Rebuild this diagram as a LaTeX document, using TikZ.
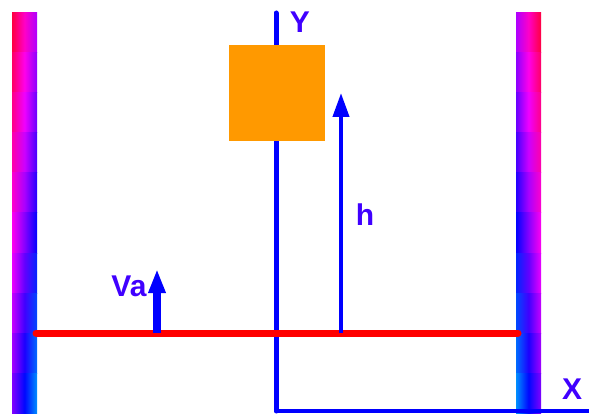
\documentclass[tikz,border=0pt]{standalone}
\usepackage{fontspec}
\setmainfont{Liberation Sans}
\usetikzlibrary{arrows.meta}
\definecolor{axisblue}{RGB}{0,0,255}
\definecolor{labelblue}{RGB}{64,0,255}
\definecolor{boxorange}{RGB}{255,153,0}
\definecolor{groundred}{RGB}{255,0,0}
\begin{document}
\begin{tikzpicture}[x=1pt,y=-1pt,
  lbl/.style={text=labelblue, font=\fontsize{30}{30}\selectfont\bfseries, inner sep=0pt},
  axisline/.style={draw=axisblue, line width=5pt},
  vec/.style={draw=axisblue, -{Triangle[width=16pt,length=24pt]}}]
\useasboundingbox (0,0) rectangle (589,414);
% walls
\foreach \i in {0,...,9}{
  \pgfmathsetmacro\hl{345-8.3*\i}
  \pgfmathsetmacro\hm{\hl-32}
  \pgfmathsetmacro\hr{\hl-64}
  \definecolor{wl}{Hsb}{\hl,1,1}
  \definecolor{wm}{Hsb}{\hm,1,1}
  \definecolor{wr}{Hsb}{\hr,1,1}
  \fill[left color=wl, middle color=wm, right color=wr] (12,13+40*\i) rectangle (37,53+40*\i);
  \fill[left color=wr, middle color=wm, right color=wl] (516,13+40*\i) rectangle (541,53+40*\i);
}
% axes
\coordinate (ytop) at (276,13);
\coordinate (origin) at (276,411);
\coordinate (xend) at (589,411);
\draw[axisline, line cap=round] (ytop) -- (origin);
\draw[axisline, line width=4pt] (origin) -- (xend);
% ground line
\coordinate (gl) at (36,333);
\coordinate (gr) at (518,333);
\draw[groundred, line width=7pt, line cap=round] (gl) -- (gr);
% box
\node (box) [fill=boxorange, minimum width=96pt, minimum height=96pt, inner sep=0pt] at (277,93) {};
% vectors
\coordinate (hbase) at (341,333);
\coordinate (htip) at (341,93);
\draw[vec, line width=4pt] (hbase) -- (htip);
\coordinate (vbase) at (157,333);
\coordinate (vtip) at (157,269);
\draw[vec, line width=8pt] (vbase) -- (vtip);
% labels
\node[lbl] (ylab) at (300,22) {Y};
\node[lbl] (xlab) at (572,389) {X};
\node[lbl] (hlab) at (365,215) {h};
\node[lbl] (valab) at (129,286) {Va};
\end{tikzpicture}
\end{document}
